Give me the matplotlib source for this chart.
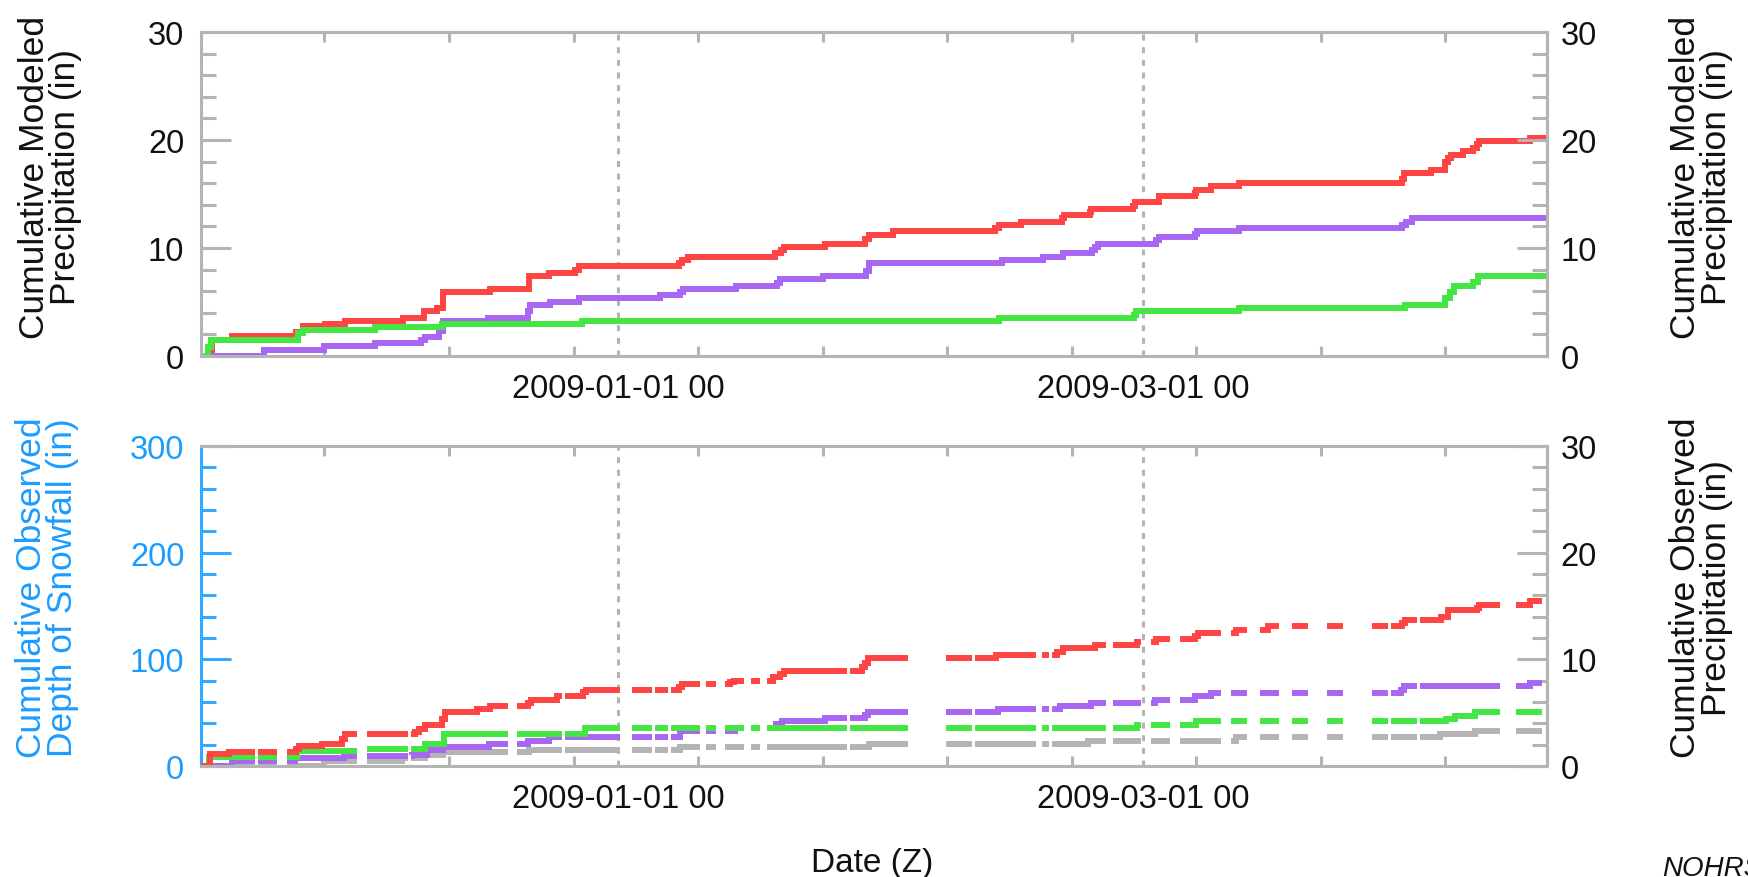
import numpy as np
import matplotlib
matplotlib.use("Agg")
import matplotlib.pyplot as plt
import matplotlib.dates as mdates
from matplotlib import font_manager
from matplotlib.ticker import MultipleLocator, FixedLocator

# ---------------------------------------------------------------- data
# time axis: days since 2008-11-15 00Z
START = np.datetime64("2008-11-15")
X_RANGE = (0.125, 151.375)
MAJOR_DAYS = [47, 106]                                   # 2009-01-01, 2009-03-01
MINOR_DAYS = [14, 28, 42, 56, 70, 84, 98, 112, 126, 140]

# cumulative modeled precipitation (in), step changes
model_red_days = [0, 1.4, 3.6, 10.8, 11.6, 14.1, 16.3, 22.8, 25.2, 26.7,
                  27.3, 32.6, 37.0, 39.2, 42.2, 42.6, 53.8, 54.2, 54.9, 64.6,
                  65.3, 65.7, 70.3, 74.7, 75.2, 77.9, 89.4, 89.8, 92.3, 96.9,
                  97.1, 100.0, 100.2, 104.9, 105.1, 107.8, 111.8, 112.0, 113.6, 116.8,
                  135.1, 135.3, 138.4, 139.9, 140.3, 140.6, 142.0, 143.1, 143.5, 143.8,
                  149.5]
model_red_vals = [0, 1.5, 1.85, 2.2, 2.8, 2.95, 3.27, 3.52, 4.14, 4.4,
                  5.95, 6.2, 7.4, 7.7, 8.0, 8.3, 8.6, 8.9, 9.15, 9.5,
                  9.8, 10.1, 10.35, 10.8, 11.25, 11.57, 11.85, 12.13, 12.44, 12.75,
                  13.05, 13.3, 13.6, 13.9, 14.23, 14.81, 15.1, 15.4, 15.71, 16.02,
                  16.4, 16.9, 17.19, 18.0, 18.35, 18.64, 18.98, 19.3, 19.6, 19.88,
                  20.15]

model_purple_days = [0, 7.2, 13.9, 19.7, 24.9, 25.3, 26.9, 27.3, 32.4, 36.9,
                     37.1, 39.3, 42.6, 51.7, 54.0, 54.3, 60.3, 64.9, 65.2, 70.0,
                     74.9, 75.2, 90.2, 94.8, 97.0, 100.3, 100.6, 100.9, 107.5, 107.8,
                     111.9, 112.1, 116.8, 135.1, 135.6, 136.2]
model_purple_vals = [0, 0.59, 0.9, 1.2, 1.5, 1.79, 2.3, 3.24, 3.49, 4.2,
                     4.72, 5.03, 5.34, 5.61, 5.9, 6.23, 6.51, 6.8, 7.09, 7.4,
                     7.9, 8.58, 8.89, 9.2, 9.5, 9.8, 10.1, 10.37, 10.7, 10.99,
                     11.3, 11.57, 11.88, 12.1, 12.45, 12.75]

model_green_days = [0, 0.9, 1.3, 11.0, 11.6, 19.7, 27.2, 43.0, 89.8, 104.95,
                    105.25, 116.8, 135.5, 139.9, 140.5, 140.9, 143.1, 143.7]
model_green_vals = [0, 0.8, 1.5, 2.1, 2.4, 2.69, 2.96, 3.24, 3.52, 3.8,
                    4.14, 4.44, 4.75, 5.4, 5.9, 6.51, 6.85, 7.44]

# cumulative observed precipitation (in), step changes
obs_red_days = [0, 1.1, 3.3, 10.8, 11.15, 13.7, 15.95, 16.3, 24.2, 24.6,
                25.3, 27.2, 27.55, 31.1, 32.6, 36.9, 37.2, 40.1, 43.1, 43.4,
                53.8, 54.2, 59.6, 60.0, 64.45, 65.2, 65.7, 74.4, 74.8, 75.1,
                89.45, 96.3, 97.05, 100.6, 105.3, 107.5, 111.85, 112.15, 116.4, 120.1,
                135.15, 135.5, 139.5, 140.25, 143.5, 143.8, 149.5]
obs_red_vals = [0, 1.1, 1.33, 1.6, 1.92, 2.1, 2.5, 2.97, 3.2, 3.45,
                3.84, 4.4, 5.07, 5.36, 5.66, 5.94, 6.22, 6.59, 6.9, 7.15,
                7.45, 7.71, 7.85, 8.01, 8.3, 8.6, 8.91, 9.3, 9.7, 10.12,
                10.4, 10.7, 11.02, 11.3, 11.6, 11.88, 12.2, 12.5, 12.78, 13.09,
                13.4, 13.65, 13.99, 14.58, 14.85, 15.13, 15.44]

obs_purple_days = [0, 3.6, 10.7, 16.2, 23.8, 25.5, 27.3, 32.5, 36.9, 39.25,
                   54.0, 60.1, 64.8, 65.4, 70.3, 74.8, 75.1, 89.7, 96.7, 100.2,
                   107.4, 111.8, 113.6, 135.0, 135.3, 149.5]
obs_purple_vals = [0, 0.43, 0.74, 0.9, 1.05, 1.49, 1.76, 2.07, 2.35, 2.7,
                   3.28, 3.59, 3.9, 4.18, 4.46, 4.8, 5.07, 5.36, 5.66, 5.94,
                   6.22, 6.56, 6.84, 7.15, 7.46, 7.74]

obs_green_days = [0, 1.0, 10.9, 18.0, 25.3, 27.4, 43.3, 105.3, 112.0, 140.1, 141.1, 143.3]
obs_green_vals = [0, 0.85, 1.36, 1.64, 2.1, 2.97, 3.59, 3.87, 4.18, 4.45, 4.73, 5.07]

obs_grey_days = [0, 14.0, 22.7, 25.3, 27.3, 37.0, 54.0, 75.2, 99.85, 116.4, 139.4, 143.3]
obs_grey_vals = [0, 0.45, 0.77, 1.05, 1.3, 1.49, 1.76, 2.1, 2.35, 2.7, 2.97, 3.25]

# periods without observations (start day, end day) and end of the record
obs_gaps = [(6.2, 6.55), (8.64, 9.8), (17.67, 18.8), (23.37, 23.74), (34.6, 35.65),
            (40.67, 41.04), (47.22, 48.54), (50.79, 51.16), (52.59, 52.96), (56.2, 56.9),
            (58.0, 59.0), (61.16, 61.95), (62.96, 63.78), (72.7, 73.07), (79.56, 83.86),
            (86.75, 87.12), (93.98, 94.62), (95.44, 95.74), (101.84, 102.66), (105.74, 106.9),
            (109.04, 110.17), (114.77, 115.9), (117.69, 119.15), (121.29, 122.75), (124.55, 126.68),
            (128.48, 131.74), (133.53, 133.87), (136.79, 137.13), (146.12, 147.92)]
obs_end = 150.8

# ---------------------------------------------------------------- style
names = {f.name for f in font_manager.fontManager.ttflist}
NARROW = "Liberation Sans Narrow" in names
TICK_FONT = "Liberation Sans Narrow" if NARROW else "Liberation Sans"
TICK_SIZE = 26 if NARROW else 23.5
LABEL_FONT = "Liberation Sans"

plt.rcParams["font.family"] = [TICK_FONT, "DejaVu Sans"]
plt.rcParams["lines.scale_dashes"] = False

RED = "#ff4444"
PURPLE = "#a866f2"
GREEN = "#44e644"
GREY = "#b4b4b4"
AX_GREY = "#b4b4b4"
BLUE = "#33aaff"
BLUE_TEXT = "#1a9cff"
TEXT = "#111111"
LW = 4.3
SPINE_W = 2.2

BASE = mdates.date2num(START)


def step_points(days, vals, end, gaps=()):
    """Break-point list for a cumulative step series, NaN inside data gaps."""
    days = np.asarray(days, float)
    vals = np.asarray(vals, float)
    t = sorted(set(days.tolist()) | {g for gap in gaps for g in gap} | {end})
    t = np.array([x for x in t if x <= end])
    idx = np.searchsorted(days, t, side="right") - 1
    y = vals[idx].copy()
    for gs, ge in gaps:
        y[(t >= gs) & (t < ge)] = np.nan
    return BASE + t, y


W, H = 1748, 878


def rect(l, t, r, b):
    return [l / W, 1 - b / H, (r - l) / W, (b - t) / H]


fig = plt.figure(figsize=(W / 100, H / 100), dpi=100)
fig.patch.set_facecolor("white")

ax_top = fig.add_axes(rect(201, 33, 1546.7, 357))
ax_bot = fig.add_axes(rect(201, 447, 1546.7, 767))
ax_top_r = ax_top.twinx()
ax_bot_r = ax_bot.twinx()


def style_x(ax):
    ax.set_xlim(BASE + X_RANGE[0], BASE + X_RANGE[1])
    ax.xaxis.set_major_locator(FixedLocator([BASE + d for d in MAJOR_DAYS]))
    ax.xaxis.set_minor_locator(FixedLocator([BASE + d for d in MINOR_DAYS]))
    ax.xaxis.set_major_formatter(mdates.DateFormatter("%Y-%m-%d %H"))
    ax.tick_params(axis="x", which="major", length=0, pad=12,
                   labelsize=TICK_SIZE, labelcolor=TEXT)
    ax.tick_params(axis="x", which="minor", direction="in", length=7,
                   width=SPINE_W, color=AX_GREY, top=True, bottom=True)
    ax.grid(axis="x", which="major", color=AX_GREY, linewidth=SPINE_W,
            linestyle=(0, (4.3, 4.8)))
    ax.set_axisbelow(True)


def style_y(ax, top, step_major, step_minor, side, color, labelcolor):
    ax.set_ylim(0, top)
    ax.yaxis.set_major_locator(MultipleLocator(step_major))
    ax.yaxis.set_minor_locator(MultipleLocator(step_minor))
    kw = dict(left=(side == "left"), right=(side == "right"),
              labelleft=(side == "left"), labelright=(side == "right"))
    ax.tick_params(axis="y", which="major", direction="in", length=21.6,
                   width=SPINE_W, color=color, labelcolor=labelcolor,
                   labelsize=TICK_SIZE, pad=12 if side == "left" else 10, **kw)
    ax.tick_params(axis="y", which="minor", direction="in", length=10.8,
                   width=SPINE_W, color=color, **kw)


for ax in (ax_top, ax_bot, ax_top_r, ax_bot_r):
    for sp in ax.spines.values():
        sp.set_color(AX_GREY)
        sp.set_linewidth(SPINE_W)
    ax.set_facecolor("none")

for ax in (ax_top_r, ax_bot_r):
    ax.spines["left"].set_visible(False)
ax_bot.spines["left"].set_color(BLUE)

style_x(ax_top)
style_x(ax_bot)
ax_top_r.set_xlim(ax_top.get_xlim())
ax_bot_r.set_xlim(ax_bot.get_xlim())

style_y(ax_top, 30, 10, 2, "left", AX_GREY, TEXT)
style_y(ax_top_r, 30, 10, 2, "right", AX_GREY, TEXT)
style_y(ax_bot, 300, 100, 20, "left", BLUE, BLUE_TEXT)
style_y(ax_bot_r, 30, 10, 2, "right", AX_GREY, TEXT)

line_kw = dict(drawstyle="steps-post", linewidth=LW,
               solid_capstyle="butt", solid_joinstyle="miter")

# modeled precipitation
end_top = X_RANGE[1]
for days, vals, col in [(model_red_days, model_red_vals, RED),
                        (model_purple_days, model_purple_vals, PURPLE),
                        (model_green_days, model_green_vals, GREEN)]:
    x, y = step_points(days, vals, end_top)
    ax_top.plot(x, y, color=col, **line_kw)

# observed precipitation
for days, vals, col in [(obs_grey_days, obs_grey_vals, GREY),
                        (obs_purple_days, obs_purple_vals, PURPLE),
                        (obs_green_days, obs_green_vals, GREEN),
                        (obs_red_days, obs_red_vals, RED)]:
    x, y = step_points(days, vals, obs_end, obs_gaps)
    ax_bot_r.plot(x, y, color=col, **line_kw)

# axis titles
lab_kw = dict(rotation=90, ha="center", va="center", multialignment="center",
              family=LABEL_FONT, fontsize=25.5, linespacing=0.95)
fig.text(50 / W, 1 - 177 / H, "Cumulative Modeled\nPrecipitation (in)", color=TEXT, **lab_kw)
fig.text(1701 / W, 1 - 177 / H, "Cumulative Modeled\nPrecipitation (in)", color=TEXT, **lab_kw)
fig.text(47 / W, 1 - 588 / H, "Cumulative Observed\nDepth of Snowfall (in)", color=BLUE_TEXT, **lab_kw)
fig.text(1701 / W, 1 - 588 / H, "Cumulative Observed\nPrecipitation (in)", color=TEXT, **lab_kw)

fig.text(872 / W, 1 - 872 / H, "Date (Z)", ha="center", va="baseline",
         family=LABEL_FONT, fontsize=24, color=TEXT)
# source credit, running off the right edge of the canvas
fig.text(1662 / W, 1 - 876 / H, "NOHRSC", ha="left", va="baseline",
         family=LABEL_FONT, fontsize=20, style="italic", color=TEXT)

fig.savefig("out.png", dpi=100, facecolor="white")
